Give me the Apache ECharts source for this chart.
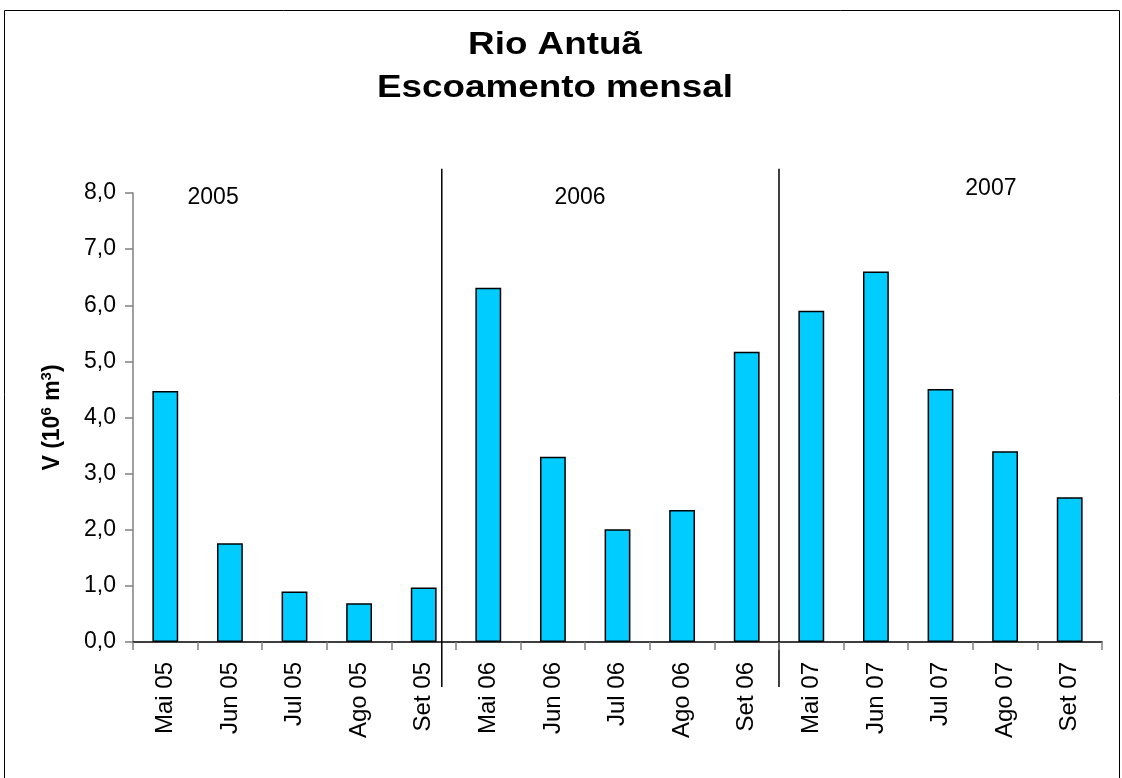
<!DOCTYPE html>
<html>
<head>
<meta charset="utf-8">
<script src="https://cdn.jsdelivr.net/npm/echarts@6/dist/echarts.min.js"></script>
<style>
  html, body { margin: 0; padding: 0; background: #fff; }
  #chart { width: 1122px; height: 778px; }
</style>
</head>
<body>
<div id="chart"></div>
<script>
// Monthly runoff volume (10^6 m3), May–September of each year
const months = ['Mai 05', 'Jun 05', 'Jul 05', 'Ago 05', 'Set 05',
                'Mai 06', 'Jun 06', 'Jul 06', 'Ago 06', 'Set 06',
                'Mai 07', 'Jun 07', 'Jul 07', 'Ago 07', 'Set 07'];
const volume = [4.47, 1.76, 0.90, 0.69, 0.97,
                6.31, 3.30, 2.01, 2.35, 5.17,
                5.90, 6.60, 4.51, 3.40, 2.58];
const yTicks = [0, 1, 2, 3, 4, 5, 6, 7, 8];

// Title lines
const titleLines = ['Rio Antuã', 'Escoamento mensal'];

// Year annotations: label and position (category index, value)
const yearLabels = ['2005', '2006', '2007'];
const yearLabelPos = [[0.74, 7.92], [6.42, 7.92], [12.78, 8.07]];
// Separators between years (fractional category index)
const separatorPos = [4.28, 9.5];

const FONT = 'Liberation Sans, Arial, sans-serif';

const chart = echarts.init(document.getElementById('chart'));

chart.setOption({
  backgroundColor: '#fff',
  animation: false,
  grid: { left: 133, right: 20, top: 193, bottom: 136 },
  xAxis: {
    type: 'category',
    data: months,
    boundaryGap: true,
    axisLine: { lineStyle: { color: '#000', width: 1.5 } },
    axisTick: { show: true, inside: false, length: 8, lineStyle: { color: '#808080', width: 1.5 } },
    axisLabel: {
      rotate: 90,
      margin: 20,
      fontFamily: FONT,
      fontSize: 24,
      color: '#000',
      interval: 0
    }
  },
  yAxis: {
    type: 'value',
    min: 0,
    max: 8,
    interval: 1,
    name: '{b|V (10}{s|6}{b| m}{s|3}{b|)}',
    nameLocation: 'middle',
    nameRotate: 90,
    nameGap: 66,
    nameTextStyle: {
      rich: {
        b: { fontFamily: FONT, fontSize: 23, fontWeight: 'bold', color: '#000', lineHeight: 28 },
        s: { fontFamily: FONT, fontSize: 15, fontWeight: 'bold', color: '#000', verticalAlign: 'top', lineHeight: 28 }
      }
    },
    axisLine: { show: true, lineStyle: { color: '#808080', width: 1.5 } },
    axisTick: { show: true, inside: false, length: 8, lineStyle: { color: '#808080', width: 1.5 } },
    splitLine: { show: false },
    axisLabel: {
      margin: 17,
      fontFamily: FONT,
      fontSize: 23,
      color: '#000',
      formatter: function (v) {
        return yTicks.indexOf(v) >= 0 ? v.toFixed(1).replace('.', ',') : '';
      }
    }
  },
  series: [{
    type: 'bar',
    data: volume,
    barWidth: '40%',
    itemStyle: { color: '#00CCFF', borderColor: '#000', borderWidth: 1.5 }
  }]
});

// Annotations placed through the chart's own coordinate conversion
function px(catIndex, value) {
  const i0 = Math.floor(catIndex);
  const frac = catIndex - i0;
  const a = chart.convertToPixel({ gridIndex: 0 }, [i0, value]);
  const b = chart.convertToPixel({ gridIndex: 0 }, [Math.min(i0 + 1, months.length - 1), value]);
  return [a[0] + frac * (b[0] - a[0]), a[1]];
}

const graphics = [];
// outer frame
graphics.push({
  type: 'rect',
  shape: { x: 4.5, y: 10.5, width: 1115, height: 780 },
  style: { fill: null, stroke: '#000', lineWidth: 1 },
  silent: true
});
// two-line bold title, slightly widened
const titleTops = [29, 72];
titleLines.forEach(function (t, i) {
  graphics.push({
    type: 'text',
    x: 555,
    y: titleTops[i],
    scaleX: 1.15,
    style: {
      text: t,
      fontFamily: FONT,
      fontSize: 32,
      fontWeight: 'bold',
      fill: '#000',
      align: 'center',
      verticalAlign: 'top'
    },
    silent: true
  });
});
separatorPos.forEach(function (c) {
  const top = px(c, 8.43);
  const bot = px(c, -0.8);
  graphics.push({
    type: 'line',
    shape: { x1: top[0], y1: top[1], x2: bot[0], y2: bot[1] },
    style: { stroke: '#000', lineWidth: 1.5 },
    silent: true
  });
});
yearLabels.forEach(function (t, i) {
  const p = px(yearLabelPos[i][0], yearLabelPos[i][1]);
  graphics.push({
    type: 'text',
    x: p[0],
    y: p[1],
    style: {
      text: t,
      fontFamily: FONT,
      fontSize: 23,
      fill: '#000',
      align: 'center',
      verticalAlign: 'middle'
    },
    silent: true
  });
});
chart.setOption({ graphic: graphics });
</script>
</body>
</html>
